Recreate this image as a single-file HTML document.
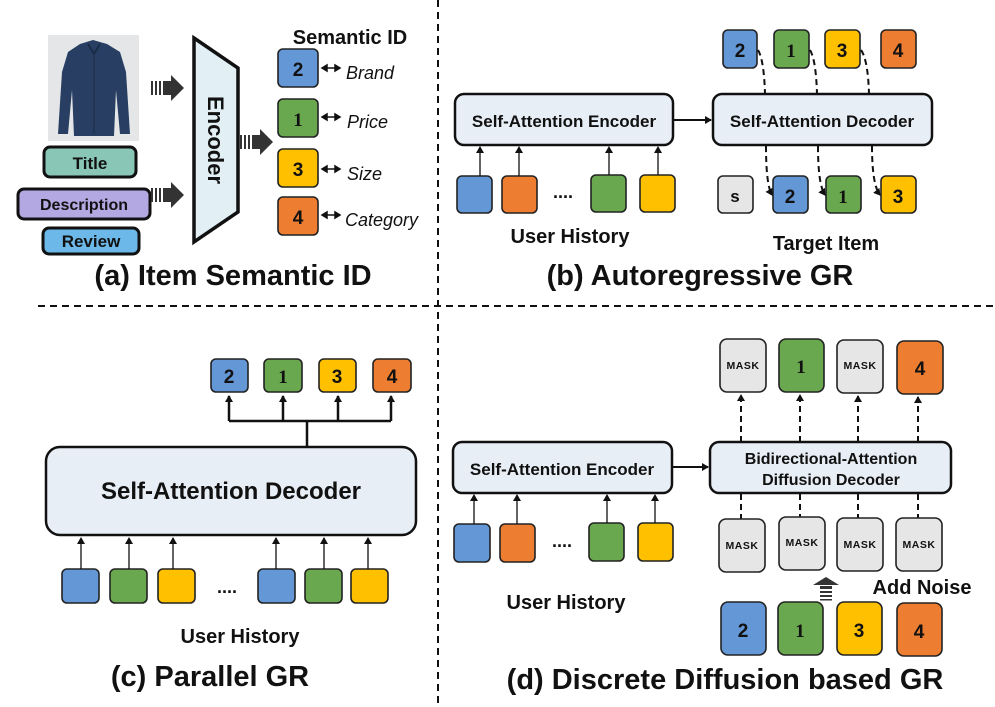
<!DOCTYPE html>
<html><head><meta charset="utf-8"><style>
html,body{margin:0;padding:0;background:#fff;}
svg{display:block;}
text{font-family:"Liberation Sans",sans-serif;}
.b{stroke:#222;stroke-width:1.6;}
.n{font-weight:bold;font-size:19px;text-anchor:middle;fill:#111;}
.m{font-weight:bold;font-size:10.5px;text-anchor:middle;fill:#111;letter-spacing:0.5px;}
.cap{font-weight:bold;font-size:29px;text-anchor:middle;fill:#111;}
.lab{font-weight:bold;font-size:20px;text-anchor:middle;fill:#111;}
.bx{font-weight:bold;font-size:17px;text-anchor:middle;fill:#111;}
.it{font-style:italic;font-size:18px;fill:#111;}
</style></head><body>
<svg width="995" height="707" viewBox="0 0 995 707" xmlns="http://www.w3.org/2000/svg">
<defs>
<marker id="ah" markerWidth="8" markerHeight="8" refX="6" refY="4" orient="auto" markerUnits="userSpaceOnUse"><path d="M0,0 L7,4 L0,8 z" fill="#111"/></marker>
</defs>
<!-- dividers -->
<line x1="438" y1="0" x2="438" y2="707" stroke="#111" stroke-width="2" stroke-dasharray="7,5"/>
<line x1="38" y1="306" x2="995" y2="306" stroke="#111" stroke-width="2" stroke-dasharray="7,5"/>

<!-- Panel a -->
<rect x="48" y="35" width="91" height="106" fill="#e4e6e8"/>
<path d="M80,44 L93,40 L107,44 L120,52 L126,72 L130,134 L120,134 L116,90 L114,136 L74,136 L72,90 L68,134 L58,134 L62,72 L68,52 Z" fill="#283e62"/>
<path d="M88,44 L94,54 L100,44" stroke="#1b2c48" stroke-width="2" fill="none"/>
<line x1="94" y1="54" x2="94" y2="134" stroke="#1b2c48" stroke-width="1"/>
<rect x="44" y="147" width="92" height="30" rx="6" fill="#8ac6b6" stroke="#111" stroke-width="3"/>
<text x="90" y="169" class="bx">Title</text>
<rect x="18" y="189" width="132" height="30" rx="6" fill="#b4a8e2" stroke="#111" stroke-width="3"/>
<text x="84" y="210" class="bx" style="font-size:16px">Description</text>
<rect x="43" y="228" width="96" height="26" rx="6" fill="#6cb8e8" stroke="#111" stroke-width="3"/>
<text x="91" y="247" class="bx">Review</text>
<!-- striped arrows -->
<g fill="#333">
<g transform="translate(151,88)"><rect x="0" y="-7" width="2" height="14"/><rect x="4" y="-7" width="2" height="14"/><rect x="8" y="-7" width="2" height="14"/><rect x="12" y="-7" width="8" height="14"/><path d="M20,-13 L33,0 L20,13 z"/></g>
<g transform="translate(151,195)"><rect x="0" y="-7" width="2" height="14"/><rect x="4" y="-7" width="2" height="14"/><rect x="8" y="-7" width="2" height="14"/><rect x="12" y="-7" width="8" height="14"/><path d="M20,-13 L33,0 L20,13 z"/></g>
<g transform="translate(240,142)"><rect x="0" y="-7" width="2" height="14"/><rect x="4" y="-7" width="2" height="14"/><rect x="8" y="-7" width="2" height="14"/><rect x="12" y="-7" width="8" height="14"/><path d="M20,-13 L33,0 L20,13 z"/></g>
</g>
<path d="M194,38 L238,68 L238,212 L194,242 Z" fill="#e2f0f5" stroke="#111" stroke-width="3.5"/>
<text transform="translate(208,140) rotate(90)" text-anchor="middle" font-weight="bold" font-size="22" fill="#111" font-family="Liberation Sans">Encoder</text>
<text x="350" y="44" class="lab" style="font-size:20px">Semantic ID</text>
<rect x="278" y="49" width="40" height="38" rx="5" fill="#6497d6" class="b"/><text x="298" y="76" class="n">2</text>
<rect x="278" y="99" width="40" height="38" rx="5" fill="#6aa84f" class="b"/><text x="298" y="126" class="n" style="font-family:'Liberation Serif',serif">1</text>
<rect x="278" y="149" width="40" height="38" rx="5" fill="#ffc000" class="b"/><text x="298" y="176" class="n">3</text>
<rect x="278" y="197" width="40" height="38" rx="5" fill="#ed7d31" class="b"/><text x="298" y="224" class="n">4</text>
<g stroke="#111" stroke-width="1.5" fill="#111">
<line x1="325" y1="68" x2="337" y2="68"/><path d="M322,68 l5,-3 v6z M340,68 l-5,-3 v6z"/>
<line x1="325" y1="117" x2="337" y2="117"/><path d="M322,117 l5,-3 v6z M340,117 l-5,-3 v6z"/>
<line x1="325" y1="169" x2="337" y2="169"/><path d="M322,169 l5,-3 v6z M340,169 l-5,-3 v6z"/>
<line x1="325" y1="215" x2="337" y2="215"/><path d="M322,215 l5,-3 v6z M340,215 l-5,-3 v6z"/>
</g>
<text x="346" y="79" class="it">Brand</text>
<text x="347" y="128" class="it">Price</text>
<text x="347" y="180" class="it">Size</text>
<text x="345" y="226" class="it">Category</text>
<text x="233" y="285" class="cap">(a) Item Semantic ID</text>

<!-- Panel b -->
<rect x="455" y="94" width="218" height="51" rx="9" fill="#e8eef5" stroke="#111" stroke-width="2.5"/>
<text x="564" y="127" class="bx">Self-Attention Encoder</text>
<rect x="713" y="94" width="219" height="51" rx="9" fill="#e8eef5" stroke="#111" stroke-width="2.5"/>
<text x="822" y="127" class="bx">Self-Attention Decoder</text>
<line x1="674" y1="120" x2="711" y2="120" stroke="#111" stroke-width="2" marker-end="url(#ah)"/>
<rect x="723" y="30" width="34" height="38" rx="5" fill="#6497d6" class="b"/><text x="740" y="57" class="n">2</text>
<rect x="774" y="30" width="35" height="38" rx="5" fill="#6aa84f" class="b"/><text x="791" y="57" class="n" style="font-family:'Liberation Serif',serif">1</text>
<rect x="825" y="30" width="35" height="38" rx="5" fill="#ffc000" class="b"/><text x="842" y="57" class="n">3</text>
<rect x="881" y="30" width="35" height="38" rx="5" fill="#ed7d31" class="b"/><text x="898" y="57" class="n">4</text>
<rect x="718" y="176" width="35" height="37" rx="5" fill="#e6e6e6" class="b"/><text x="735" y="202" class="n" style="font-size:17px">s</text>
<rect x="773" y="176" width="35" height="37" rx="5" fill="#6497d6" class="b"/><text x="790" y="203" class="n">2</text>
<rect x="826" y="176" width="35" height="37" rx="5" fill="#6aa84f" class="b"/><text x="843" y="203" class="n" style="font-family:'Liberation Serif',serif">1</text>
<rect x="881" y="176" width="35" height="37" rx="5" fill="#ffc000" class="b"/><text x="898" y="203" class="n">3</text>
<g stroke="#111" stroke-width="2" stroke-dasharray="6,4" fill="none">
<path d="M758,50 Q764,60 765,94"/><path d="M766,146 Q766,185 772,195" marker-end="url(#ah)"/>
<path d="M810,50 Q816,60 817,94"/><path d="M818,146 Q818,185 825,195" marker-end="url(#ah)"/>
<path d="M861,50 Q868,60 869,94"/><path d="M872,146 Q872,185 880,195" marker-end="url(#ah)"/>
</g>
<rect x="457" y="176" width="35" height="37" rx="5" fill="#6497d6" class="b"/>
<rect x="502" y="176" width="35" height="37" rx="5" fill="#ed7d31" class="b"/>
<rect x="591" y="175" width="35" height="37" rx="5" fill="#6aa84f" class="b"/>
<rect x="640" y="175" width="35" height="37" rx="5" fill="#ffc000" class="b"/>
<text x="563" y="198" class="n" style="font-size:18px">....</text>
<g stroke="#111" stroke-width="1.3" marker-end="url(#ah)">
<line x1="480" y1="176" x2="480" y2="147"/><line x1="519" y1="176" x2="519" y2="147"/>
<line x1="609" y1="175" x2="609" y2="147"/><line x1="658" y1="175" x2="658" y2="147"/>
</g>
<text x="570" y="243" class="lab">User History</text>
<text x="826" y="250" class="lab">Target Item</text>
<text x="700" y="285" class="cap">(b) Autoregressive GR</text>

<!-- Panel c -->
<rect x="46" y="447" width="370" height="88" rx="14" fill="#e8eef5" stroke="#111" stroke-width="2.5"/>
<text x="231" y="499" class="bx" style="font-size:24px">Self-Attention Decoder</text>
<rect x="211" y="359" width="37" height="33" rx="5" fill="#6497d6" class="b"/><text x="229" y="383" class="n">2</text>
<rect x="264" y="359" width="38" height="33" rx="5" fill="#6aa84f" class="b"/><text x="283" y="383" class="n" style="font-family:'Liberation Serif',serif">1</text>
<rect x="319" y="359" width="37" height="33" rx="5" fill="#ffc000" class="b"/><text x="337" y="383" class="n">3</text>
<rect x="373" y="359" width="38" height="33" rx="5" fill="#ed7d31" class="b"/><text x="392" y="383" class="n">4</text>
<g stroke="#111" stroke-width="2.5" fill="none">
<line x1="307" y1="447" x2="307" y2="421"/>
<line x1="229" y1="421" x2="391" y2="421"/>
</g>
<g stroke="#111" stroke-width="2.5" marker-end="url(#ah)">
<line x1="229" y1="421" x2="229" y2="396"/><line x1="283" y1="421" x2="283" y2="396"/>
<line x1="338" y1="421" x2="338" y2="396"/><line x1="391" y1="421" x2="391" y2="396"/>
</g>
<rect x="62" y="569" width="37" height="34" rx="5" fill="#6497d6" class="b"/>
<rect x="110" y="569" width="37" height="34" rx="5" fill="#6aa84f" class="b"/>
<rect x="158" y="569" width="37" height="34" rx="5" fill="#ffc000" class="b"/>
<rect x="258" y="569" width="37" height="34" rx="5" fill="#6497d6" class="b"/>
<rect x="305" y="569" width="37" height="34" rx="5" fill="#6aa84f" class="b"/>
<rect x="351" y="569" width="37" height="34" rx="5" fill="#ffc000" class="b"/>
<text x="227" y="593" class="n" style="font-size:18px">....</text>
<g stroke="#111" stroke-width="1.3" marker-end="url(#ah)">
<line x1="81" y1="569" x2="81" y2="538"/><line x1="129" y1="569" x2="129" y2="538"/><line x1="173" y1="569" x2="173" y2="538"/>
<line x1="276" y1="569" x2="276" y2="538"/><line x1="324" y1="569" x2="324" y2="538"/><line x1="368" y1="569" x2="368" y2="538"/>
</g>
<text x="240" y="643" class="lab">User History</text>
<text x="210" y="686" class="cap">(c) Parallel GR</text>

<!-- Panel d -->
<rect x="453" y="442" width="219" height="51" rx="9" fill="#e8eef5" stroke="#111" stroke-width="2.5"/>
<text x="562" y="475" class="bx">Self-Attention Encoder</text>
<rect x="710" y="442" width="241" height="51" rx="9" fill="#e8eef5" stroke="#111" stroke-width="2.5"/>
<text x="831" y="464" class="bx" style="font-size:16px">Bidirectional-Attention</text>
<text x="831" y="485" class="bx" style="font-size:16px">Diffusion Decoder</text>
<line x1="673" y1="467" x2="708" y2="467" stroke="#111" stroke-width="2" marker-end="url(#ah)"/>
<rect x="720" y="339" width="46" height="53" rx="7" fill="#e6e6e6" class="b"/><text x="743" y="369" class="m">MASK</text>
<rect x="779" y="339" width="45" height="53" rx="7" fill="#6aa84f" class="b"/><text x="801" y="373" class="n" style="font-family:'Liberation Serif',serif">1</text>
<rect x="837" y="340" width="46" height="53" rx="7" fill="#e6e6e6" class="b"/><text x="860" y="369" class="m">MASK</text>
<rect x="897" y="341" width="46" height="53" rx="7" fill="#ed7d31" class="b"/><text x="920" y="375" class="n">4</text>
<g stroke="#111" stroke-width="2" stroke-dasharray="6,4" marker-end="url(#ah)">
<line x1="741" y1="442" x2="741" y2="395"/><line x1="800" y1="442" x2="800" y2="395"/>
<line x1="858" y1="442" x2="858" y2="396"/><line x1="918" y1="442" x2="918" y2="397"/>
</g>
<g stroke="#111" stroke-width="2" stroke-dasharray="6,4">
<line x1="741" y1="494" x2="741" y2="519"/><line x1="800" y1="494" x2="800" y2="518"/>
<line x1="858" y1="494" x2="858" y2="518"/><line x1="918" y1="494" x2="918" y2="518"/>
</g>
<rect x="719" y="519" width="46" height="53" rx="7" fill="#e6e6e6" class="b"/><text x="742" y="549" class="m">MASK</text>
<rect x="779" y="517" width="46" height="53" rx="7" fill="#e6e6e6" class="b"/><text x="802" y="546" class="m">MASK</text>
<rect x="837" y="518" width="46" height="53" rx="7" fill="#e6e6e6" class="b"/><text x="860" y="548" class="m">MASK</text>
<rect x="896" y="518" width="46" height="53" rx="7" fill="#e6e6e6" class="b"/><text x="919" y="548" class="m">MASK</text>
<g fill="#333">
<path d="M813,585 L826,577 L839,585 z"/>
<rect x="820" y="586" width="12" height="3"/><rect x="820" y="591" width="12" height="2"/><rect x="820" y="595" width="12" height="2"/><rect x="820" y="599" width="12" height="1.5"/>
</g>
<text x="922" y="594" class="lab">Add Noise</text>
<rect x="721" y="602" width="45" height="53" rx="7" fill="#6497d6" class="b"/><text x="743" y="637" class="n">2</text>
<rect x="778" y="602" width="45" height="53" rx="7" fill="#6aa84f" class="b"/><text x="800" y="637" class="n" style="font-family:'Liberation Serif',serif">1</text>
<rect x="837" y="602" width="45" height="53" rx="7" fill="#ffc000" class="b"/><text x="859" y="637" class="n">3</text>
<rect x="897" y="603" width="45" height="53" rx="7" fill="#ed7d31" class="b"/><text x="919" y="638" class="n">4</text>
<rect x="454" y="524" width="36" height="38" rx="5" fill="#6497d6" class="b"/>
<rect x="500" y="524" width="35" height="38" rx="5" fill="#ed7d31" class="b"/>
<rect x="589" y="523" width="35" height="38" rx="5" fill="#6aa84f" class="b"/>
<rect x="638" y="523" width="35" height="38" rx="5" fill="#ffc000" class="b"/>
<text x="562" y="547" class="n" style="font-size:18px">....</text>
<g stroke="#111" stroke-width="1.3" marker-end="url(#ah)">
<line x1="474" y1="524" x2="474" y2="495"/><line x1="517" y1="524" x2="517" y2="495"/>
<line x1="607" y1="523" x2="607" y2="495"/><line x1="655" y1="523" x2="655" y2="495"/>
</g>
<text x="566" y="609" class="lab">User History</text>
<text x="725" y="689" class="cap">(d) Discrete Diffusion based GR</text>
</svg>
</body></html>
